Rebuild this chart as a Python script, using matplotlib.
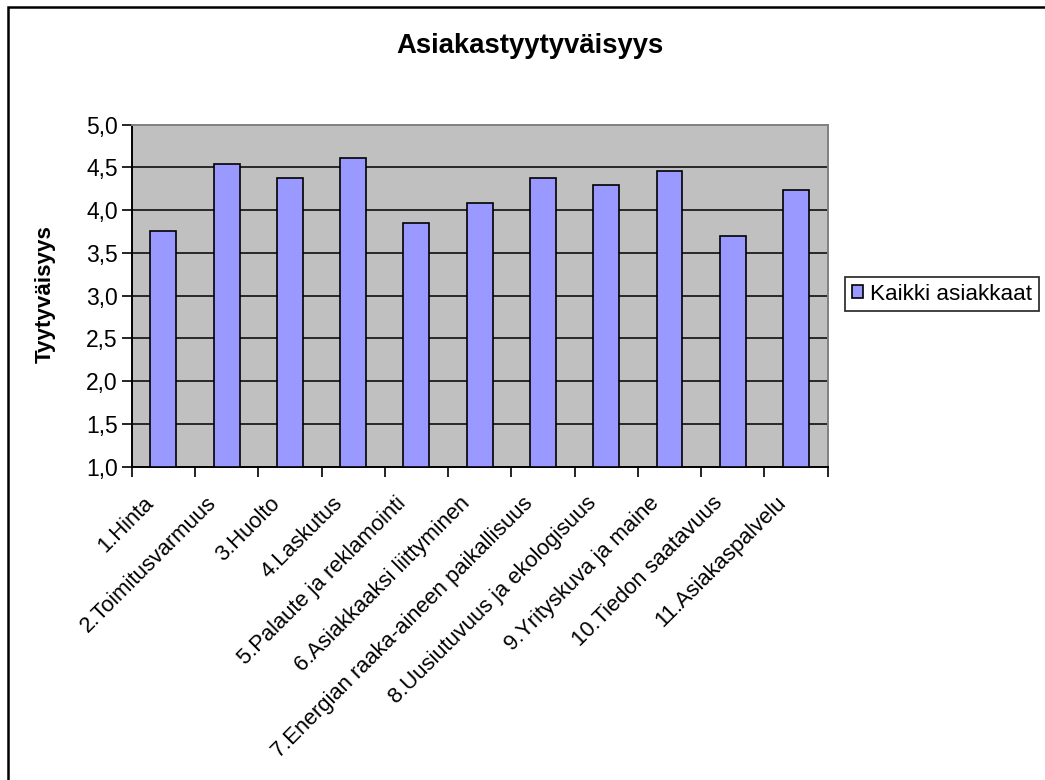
import matplotlib
matplotlib.use("Agg")
import matplotlib.pyplot as plt
from matplotlib.patches import Rectangle
from matplotlib.ticker import FuncFormatter, FixedLocator
import numpy as np

plt.rcParams['font.family'] = ['Liberation Sans', 'DejaVu Sans']

categories = ["1.Hinta", "2.Toimitusvarmuus", "3.Huolto", "4.Laskutus",
              "5.Palaute ja reklamointi", "6.Asiakkaaksi liittyminen",
              "7.Energian raaka-aineen paikallisuus", "8.Uusiutuvuus ja ekologisuus",
              "9.Yrityskuva ja maine", "10.Tiedon saatavuus", "11.Asiakaspalvelu"]
values = [3.76, 4.54, 4.38, 4.61, 3.85, 4.08, 4.38, 4.30, 4.46, 3.70, 4.24]
series_name = "Kaikki asiakkaat"
title = "Asiakastyytyväisyys"
ylabel = "Tyytyväisyys"
yticks = [1.0, 1.5, 2.0, 2.5, 3.0, 3.5, 4.0, 4.5, 5.0]

W, H = 1045, 780
fig = plt.figure(figsize=(W / 100, H / 100), dpi=100)
ax = fig.add_axes([131.7 / W, 1 - 466.7 / H, (827.7 - 131.7) / W, (466.7 - 124.7) / H])
ax.set_facecolor('#C0C0C0')

x = np.arange(len(categories))
bars = ax.bar(x, [v - 1.0 for v in values], bottom=1.0, width=0.41,
              color='#9999FF', edgecolor='black', linewidth=1.2, zorder=3,
              label=series_name)

ax.set_xlim(-0.5, len(categories) - 0.5)
ax.set_ylim(1.0, 5.0)
ax.set_yticks(yticks)
ax.yaxis.set_major_formatter(FuncFormatter(lambda v, p: f"{v:.1f}".replace('.', ',')))
for y in yticks[1:-1]:
    ax.axhline(y, color='black', linewidth=1.1, zorder=1)

# category boundary ticks
ax.xaxis.set_major_locator(FixedLocator(np.arange(-0.5, len(categories), 1.0)))
ax.xaxis.set_major_formatter(FuncFormatter(lambda v, p: ""))
ax.tick_params(axis='x', direction='out', length=7, width=1.2, color='black')
ax.tick_params(axis='y', direction='out', length=7, width=1.2, color='black',
               labelsize=16.5, pad=3)

for i, c in enumerate(categories):
    ax.annotate(c, xy=(i, 1.0), xycoords='data', xytext=(-9.5, -24),
                textcoords='offset points', rotation=45, rotation_mode='anchor',
                ha='right', va='center', fontsize=15.8, annotation_clip=False)

for s in ['left', 'bottom']:
    ax.spines[s].set_color('black')
    ax.spines[s].set_linewidth(1.4)
for s in ['top', 'right']:
    ax.spines[s].set_color('#808080')
    ax.spines[s].set_linewidth(1.4)

fig.text(530 / W, 1 - 46 / H, title, fontsize=19.8, fontweight='bold',
         ha='center', va='center')
fig.text(45.5 / W, 1 - 294 / H, ylabel, fontsize=16.1, fontweight='bold',
         rotation=90, ha='center', va='center')

leg = fig.legend(handles=[bars], labels=[series_name], loc='center left',
                 bbox_to_anchor=(845 / W, 1 - 294 / H), fontsize=16.2,
                 frameon=True, fancybox=False, edgecolor='black',
                 handlelength=0.5, handleheight=0.5, handletextpad=0.3,
                 borderpad=0.3, borderaxespad=0)
leg.get_frame().set_linewidth(1.3)

fig.patches.append(Rectangle((7.5 / W, -0.05), 1.1, 1 - 7.5 / H + 0.05,
                             transform=fig.transFigure, fill=False,
                             edgecolor='black', linewidth=1.8))

fig.savefig('out.png', dpi=100)
